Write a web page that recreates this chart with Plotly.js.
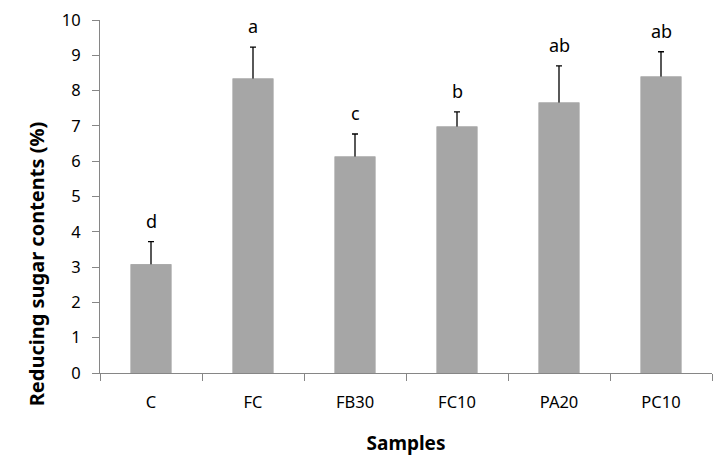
<!DOCTYPE html>
<html>
<head>
<meta charset="utf-8">
<script src="https://cdn.plot.ly/plotly-3.0.1.min.js"></script>
<style>html,body{margin:0;padding:0;background:#fff;}#chart{width:727px;height:471px;}</style>
</head>
<body>
<div id="chart"></div>
<script>
const categories = ["C", "FC", "FB30", "FC10", "PA20", "PC10"];
const values = [3.08, 8.34, 6.13, 6.98, 7.66, 8.40];
const errors = [0.64, 0.89, 0.64, 0.42, 1.04, 0.70];
const letters = ["d", "a", "c", "b", "ab", "ab"];
const yTicks = [0, 1, 2, 3, 4, 5, 6, 7, 8, 9, 10];
const yTitle = "Reducing sugar contents (%)";
const xTitle = "Samples";

const FONT = "Noto Sans, DejaVu Sans, sans-serif";

// bars carrying symmetric error bars; an identical bar trace on top hides the lower half
const errTrace = {
  type: "bar",
  x: categories,
  y: values,
  marker: {color: "#a6a6a6", line: {width: 0}},
  error_y: {type: "data", array: errors, color: "#000", thickness: 1.3, width: 3},
  hoverinfo: "none"
};
const barTrace = {
  type: "bar",
  x: categories,
  y: values,
  marker: {color: "#a6a6a6", line: {width: 0}},
  hoverinfo: "none"
};

const annotations = categories.map((c, i) => ({
  x: c, y: values[i] + errors[i], xref: "x", yref: "y",
  text: letters[i], showarrow: false, yanchor: "bottom", yshift: 7,
  font: {family: FONT, size: 18, color: "#000"}
}));
// y-axis title, placed lower than the plot centre as in the reference
annotations.push({
  xref: "paper", yref: "paper", x: 0, y: 0.308, xanchor: "center", yanchor: "middle",
  xshift: -64, textangle: -90, showarrow: false,
  text: "<b>" + yTitle + "</b>",
  font: {family: FONT, size: 20, color: "#000"}
});

const layout = {
  width: 727, height: 471,
  margin: {l: 99.5, r: 15.3, t: 19.5, b: 98.3},
  paper_bgcolor: "#fff", plot_bgcolor: "#fff",
  barmode: "overlay",
  bargap: 0.6,
  showlegend: false,
  font: {family: FONT, size: 16, color: "#000"},
  xaxis: {
    type: "category",
    showline: true, linecolor: "#868686", linewidth: 1,
    ticks: "outside", tickson: "boundaries", ticklen: 7, tickcolor: "#868686",
    showgrid: false, zeroline: false,
    tickfont: {family: FONT, size: 16.5, color: "#000"},
    ticklabelstandoff: 14,
    title: {text: "<b>" + xTitle + "</b>", font: {family: FONT, size: 19, color: "#000"}, standoff: 24}
  },
  yaxis: {
    range: [0, 10], tickvals: yTicks, ticktext: yTicks.map(String),
    showline: true, linecolor: "#868686", linewidth: 1,
    ticks: "outside", ticklen: 7, tickcolor: "#868686",
    showgrid: false, zeroline: false,
    tickfont: {family: FONT, size: 16.5, color: "#000"},
    ticklabelstandoff: 8
  },
  annotations: annotations
};

Plotly.newPlot("chart", [errTrace, barTrace], layout, {staticPlot: true, displayModeBar: false});
</script>
</body>
</html>
